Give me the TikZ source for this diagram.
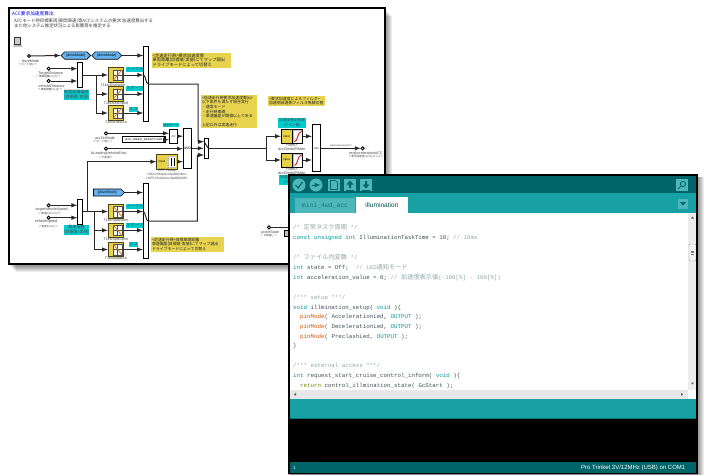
\documentclass[tikz,border=0pt]{standalone}
\usepackage{fontspec}
\setmainfont{Liberation Sans}
\setmonofont{Liberation Mono}
\newfontfamily\jpfont{Noto Sans CJK JP}
\usetikzlibrary{shapes.symbols}
\definecolor{yblock}{RGB}{232, 210, 74}
\definecolor{ylabel}{RGB}{231, 211, 78}
\definecolor{cyanlabel}{RGB}{0, 205, 208}
\definecolor{oliveedge}{RGB}{78, 66, 16}
\definecolor{tagblue}{RGB}{100, 178, 240}
\definecolor{wiredark}{RGB}{40, 40, 40}
\definecolor{labgray}{RGB}{70, 70, 70}
\definecolor{tealdark}{RGB}{0, 100, 104}
\definecolor{tealmid}{RGB}{23, 161, 165}
\definecolor{teallite}{RGB}{77, 183, 187}
\definecolor{codetext}{RGB}{67, 79, 84}
\definecolor{codegray}{RGB}{149, 165, 166}
\definecolor{codekey}{RGB}{0, 151, 156}
\definecolor{codefunc}{RGB}{211, 84, 0}
\definecolor{codeback}{RGB}{114, 142, 0}
\newcommand{\key}[1]{\textcolor{codekey}{#1}}
\newcommand{\cmt}[1]{\textcolor{codegray}{#1}}
\newcommand{\fnc}[1]{\textcolor{codefunc}{#1}}
\newcommand{\jpc}[1]{{\jpfont\fontsize{6.2}{8}\selectfont #1}}
\tikzset{
  wire/.style={draw=wiredark, line width=1pt, -latex},
  plainwire/.style={draw=wiredark, line width=1pt},
  port/.style={circle, draw=black, fill=white, line width=0.9pt, inner sep=0pt, minimum size=3.2pt},
  muxbar/.style={draw=black, fill=white, line width=0.9pt, inner sep=0pt},
  lookup/.style={draw=oliveedge, fill=yblock, line width=1pt, minimum width=15pt, minimum height=14.3pt, inner sep=0pt},
  filterbox/.style={draw=black, fill=white, line width=1pt, minimum width=21.4pt, minimum height=14pt, inner sep=0pt},
  lab/.style={font=\fontsize{3.7}{4}\selectfont, text=labgray, inner sep=0pt},
  sublab/.style={font=\jpfont\fontsize{2.6}{3}\selectfont, text=labgray, inner sep=0pt},
  noteblock/.style={fill=ylabel, font=\jpfont\fontsize{4.25}{4.7}\selectfont, text=black!85, align=left, inner xsep=1pt, inner ysep=0pt},
  cyanblock/.style={fill=cyanlabel, font=\jpfont\fontsize{4.2}{4.8}\selectfont, text=black!70, align=center, inner sep=0pt},
  tagblock/.style={signal, draw=black, fill=tagblue, line width=0.6pt, font=\fontsize{3.6}{4}\selectfont, inner sep=0pt, minimum height=7.4pt},
  codeline/.style={anchor=base west, inner sep=0pt, font=\ttfamily\fontsize{5.8}{8}\selectfont, text=codetext},
  toolbtn/.style={fill=teallite, minimum size=12pt, inner sep=0pt},
  lookupicon/.pic={
    \fill[white] (-2.5,-5.2) rectangle (6.2,5.2);
    \draw[black!70, line width=0.3pt] (-2.5,-5.2) rectangle (6.2,5.2) (1.8,-5.2) -- (1.8,5.2) (-2.5,0) -- (6.2,0);
    \draw[orange!90!black, line width=0.8pt] (-2.5,5.2) -- (6.2,-5.2);
  },
  filtericon/.pic={
    \fill[yblock] (-10.2,-6.5) rectangle (0,6.5);
    \fill[black!25] (0.6,-6.5) rectangle (10.2,6.5);
    \fill[white] (2.2,-5) rectangle (10.2,6.5);
    \draw[black, line width=0.8pt] (0,-7) -- (0,7);
    \draw[red!85!black, line width=0.8pt] (2.5,5.5) .. controls (6,5) and (5,-4) .. (9.5,-5);
  }
}
\begin{document}
\begin{tikzpicture}[x=1pt, y=-1pt]
  \useasboundingbox (0,0) rectangle (704,474);
  \fill[white] (0,0) rectangle (704,474);
  % frame of the model
  \foreach \i in {1,...,7} \fill[black, opacity=0.075] (9+\i,9+\i) rectangle (385+\i,265+\i);
  \draw[line width=2pt, fill=white] (9,8) rectangle (384.5,264);
  \node[anchor=west, inner sep=0pt, text=blue!90!black, font=\jpfont\fontsize{4.7}{6}\selectfont] (title) at (12,14) {ACC要求加速度算出};
  \node[anchor=north west, inner sep=0pt, text=black!75, align=left, font=\jpfont\fontsize{4.4}{5}\selectfont] (desc) at (14,18.5) {ACCモード時目標車両(車間車速)等ACCシステムの要求 加速度算出する\\また他システム推定状況による影響等を推定する};
  \node[draw=black!80, fill=black!20, line width=0.8pt, minimum width=6pt, minimum height=7pt, inner sep=0pt] (clock) at (17.7,40.5) {};
  \node[lab] (clocklab) at (17.7,46) {10ms};

  % inputs
  \node[port] (drivemode) at (29,56) {};
  \node[lab] (drivemodelab) at (30.6,60.7) {driveMode};
  \node[sublab] (drivemodesub) at (28,65) {(* モード値[-] *)};
  \node[port] (tgtdist) at (48.7,68.7) {};
  \node[lab] (tgtdistlab) at (50.7,73.3) {TargetDistance};
  \node[sublab] (tgtdistsub) at (48.3,77) {(* 車間距離[m] [0] *)};
  \node[port] (vehdist) at (48.7,81) {};
  \node[lab] (vehdistlab) at (51.7,85.7) {vehicleDistance};
  \node[sublab] (vehdistsub) at (50,90) {(* 車間距離[m] [0] *)};
  \node[port] (acconmode) at (106,133.3) {};
  \node[lab] (acconmodelab) at (105,137.7) {accOnMode};
  \node[sublab] (acconmodesub) at (103,141.7) {(* モード値[-] *)};
  \node[port] (leadveh) at (106,148.7) {};
  \node[lab] (leadvehlab) at (109,153.3) {bLeadingVehicleExist};
  \node[sublab] (leadvehsub) at (106,157.7) {(* 判定値 *)};
  \node[port] (tgtspd) at (48.7,205.3) {};
  \node[lab] (tgtspdlab) at (51.7,209.3) {targetVehicleSpeed};
  \node[sublab] (tgtspdsub) at (50,214) {(* 車速[km/h] [0] *)};
  \node[port] (vehspd) at (48.7,217.7) {};
  \node[lab] (vehspdlab) at (46,222) {vehicleSpeed};
  \node[sublab] (vehspdsub) at (48.3,226.7) {(* 車速[km/h] *)};
  \node[port] (accelstate) at (269,227.3) {};
  \node[lab] (accelstatelab) at (270,232.3) {acclieState};
  \node[sublab] (accelstatesub) at (269,236) {(* 状態値[-] *)};
  \node[port] (reqport) at (362.7,148.3) {};
  \node[lab] (reqlab) at (366,153.3) {reqAccelerationACC};
  \node[sublab] (reqsub) at (366,157) {(* 要求加速度[m/s2] [0-1,0] *)};

  % goto tags
  \node[tagblock, signal to=east and west, minimum width=29.7pt] (tagA) at (75.8,55.5) {[driveMode]};
  \node[tagblock, signal to=east and west, minimum width=30pt] (tagB) at (106.7,55.5) {[driveMode]};
  \node[tagblock, signal to=east, signal from=nowhere, minimum width=31pt, minimum height=7pt] (tagC) at (107.2,192.5) {[driveMode]};

  % bars
  \node[muxbar, minimum width=4.6pt, minimum height=75pt] (topmux) at (146,84.2) {};
  \node[muxbar, minimum width=4.6pt, minimum height=25pt] (distmux) at (80,74.8) {};
  \node[muxbar, minimum width=4.7pt, minimum height=75pt] (botmux) at (145.7,220.8) {};
  \node[muxbar, minimum width=4.6pt, minimum height=25pt] (spdmux) at (80,211.5) {};
  \node[muxbar, minimum width=8.4pt, minimum height=40pt, font=\fontsize{3.4}{4}\selectfont] (andgate) at (187.5,148.3) {AND};
  \node[muxbar, minimum width=8.4pt, minimum height=14.3pt, font=\fontsize{3.4}{4}\selectfont] (eqblock) at (173.5,136.2) {==};
  \node[muxbar, line width=1.1pt, minimum width=42.3pt, minimum height=6pt, font=\ttfamily\fontsize{3.4}{4}\selectfont] (constblock) at (143.85,139.7) {acc\_mean\_assertion};
  \node[muxbar, minimum width=4.3pt, minimum height=20pt] (switch) at (206.2,148.3) {};
  \node[muxbar, minimum width=8.4pt, minimum height=47.4pt, font=\fontsize{2.8}{4}\selectfont] (outmux) at (316.5,148) {min};
  \node[muxbar, minimum width=6pt, minimum height=6.7pt, fill=black!25] (accelblock) at (287,233.3) {};

  % lookup tables
  \node[lookup] (distnorm) at (115.8,75) {};
  \node[lookup] (distsport) at (115.8,94) {};
  \node[lookup] (disteco) at (115.8,113) {};
  \node[lookup] (spdnorm) at (115.8,211.5) {};
  \node[lookup] (spdsport) at (115.8,230.3) {};
  \node[lookup] (spdeco) at (115.8,249.5) {};
  \pic at (distnorm) {lookupicon};
  \pic at (distsport) {lookupicon};
  \pic at (disteco) {lookupicon};
  \pic[yscale=-1] at (spdnorm) {lookupicon};
  \pic[yscale=-1] at (spdsport) {lookupicon};
  \pic[yscale=-1] at (spdeco) {lookupicon};
  \node[lab] (distnormlab) at (113,84.7) {T1ksrDistNorm};
  \node[lab] (distsportlab) at (116,103.7) {T1ksrDistSport};
  \node[lab] (distecolab) at (116,122.3) {T1ksrDistEco};
  \node[lab] (spdnormlab) at (116,221) {T1ksrSpdNorm};
  \node[lab] (spdsportlab) at (116,240) {T1ksrSpdSport};
  \node[lab] (spdecolab) at (116,259) {T1ksrSpdEco};

  % relay and filters
  \node[draw=oliveedge, fill=yblock, line width=1pt, minimum width=20.6pt, minimum height=14.7pt, inner sep=0pt] (relay) at (167,161.7) {};
  \fill[black!25] (168,155.5) rectangle (176.2,168);
  \fill[white] (169,157) rectangle (176.2,167);
  \draw[black, line width=0.7pt] (171,158) -- (171,166) (174,158) -- (174,166);
  \node[inner sep=0pt, font=\fontsize{3}{4}\selectfont] (relayin) at (162,161.7) {input};
  \node[lab] (relaylab) at (167,170.7) {OFF Relay};
  \node[lab, font=\fontsize{3.2}{4}\selectfont] (relayon) at (167,174.4) {<ON:ChAdvAccSpdDIOOn>};
  \node[lab, font=\fontsize{3.2}{4}\selectfont] (relayoff) at (167,178.3) {<OFF:ChAdvAccSpdDIOOff>};
  \node[filterbox] (filtera) at (292,136.3) {};
  \node[filterbox] (filterb) at (292,160) {};
  \pic at (filtera) {filtericon};
  \pic at (filterb) {filtericon};
  \node[inner sep=0pt, font=\fontsize{3}{4}\selectfont] (filterain) at (286.6,136.3) {input};
  \node[inner sep=0pt, font=\fontsize{3}{4}\selectfont] (filterbin) at (286.6,160) {input};
  \node[lab] (filteralab) at (291.7,145) {FilterD};
  \node[lab] (filterasub) at (291.7,149) {dccClmdbPIMdn};
  \node[lab] (filterblab) at (291.7,169) {FilterD};
  \node[lab] (filterbsub) at (291.7,173.3) {dccClmdbPIMdn};

  % notes
  \node[noteblock, text width=77pt, minimum height=15.3pt] (notetop) at (191.2,60.35) {<定速走行時>要求加速度算\\車両距離(目標値-実値)にてマップ調出\\ドライブモードによって切替え};
  \node[noteblock, text width=71pt, minimum height=14.7pt, font=\jpfont\fontsize{3.9}{4.7}\selectfont] (notebot) at (187.5,244.35) {<定速走行時>目標車間距離\\車速偏差(目標値-実値)にてマップ調出\\ドライブモードによって切替え};
  \node[noteblock, text width=53.7pt, minimum height=33.3pt, font=\jpfont\fontsize{3.9}{4.6}\selectfont] (notemid) at (228.85,111.65) {<低速走行時要求加速度算出>\\以下条件を満たす場合実行\\・通常モード\\・走行時車間\\・車速偏差が閾値以上である\\\ \\上記以外は実速走行};
  \node[noteblock, text width=55pt, minimum height=10pt, font=\jpfont\fontsize{3.9}{4.6}\selectfont] (noteright) at (296.5,101) {<要求加速度によるフィルタ>\\加速側減速側フィルタ係数切替};
  \node[cyanblock, minimum width=25pt, minimum height=9.7pt] (cyandist) at (76.5,94.85) {車間距離偏差\\(目標値-実値)};
  \node[cyanblock, minimum width=25pt, minimum height=9.7pt] (cyanspd) at (76.5,229.85) {車速偏差\\(目標値-実値)};
  \node[cyanblock, minimum width=13.7pt, minimum height=4.7pt] (cyanna) at (134.85,69.3) {ノーマル};
  \node[cyanblock, minimum width=13.7pt, minimum height=4.7pt] (cyansa) at (134.85,88.3) {スポーツ};
  \node[cyanblock, minimum width=6.7pt, minimum height=4.7pt] (cyanea) at (133.3,109.3) {エコ};
  \node[cyanblock, minimum width=13.7pt, minimum height=4.7pt] (cyannb) at (134.85,206.3) {ノーマル};
  \node[cyanblock, minimum width=13.7pt, minimum height=4.7pt] (cyansb) at (134.85,225.3) {スポーツ};
  \node[cyanblock, minimum width=6.7pt, minimum height=4.7pt] (cyaneb) at (133.3,244.3) {エコ};
  \node[cyanblock, minimum width=15.3pt, minimum height=4.7pt, font=\jpfont\fontsize{3.1}{4}\selectfont] (cyancruise) at (171,125) {巡航モード};
  \node[cyanblock, minimum width=28pt, minimum height=10pt, font=\jpfont\fontsize{3.7}{4.6}\selectfont] (cyangain) at (292,123) {加速度補正係数\\(ゲイン値)};
  \node[cyanblock, minimum width=28pt, minimum height=10pt, font=\jpfont\fontsize{3.7}{4.6}\selectfont] (cyangainb) at (293,180) {加速度補正係数\\(ゲイン値)};

  % helper points
  \coordinate (distout) at (82.3,75);
  \coordinate (distbr) at (96.7,75);
  \coordinate (spdout) at (82.3,211.5);
  \coordinate (spdbr) at (94.3,211.5);
  \coordinate (spdup) at (87.3,211.5);
  \coordinate (topout) at (148.3,84);
  \coordinate (topcorner) at (198,84);
  \coordinate (botout) at (148,221);
  \coordinate (botcorner) at (197.3,221);
  \coordinate (swa) at (204,141.7);
  \coordinate (swb) at (204,155);
  \coordinate (swout) at (208.3,148.3);
  \coordinate (filterbr) at (266,148.3);
  \coordinate (outend) at (320.7,148.3);
  \coordinate (winedge) at (289,227.3);

  % connectors
  \draw[wire] (drivemode) -- (tagA.west);
  \draw[wire] (tagB.east) -- (tagB.east -| topmux.west);
  \draw[wire] (tgtdist) -- (tgtdist -| distmux.west);
  \draw[wire] (vehdist) -- (vehdist -| distmux.west);
  \draw[wire] (tgtspd) -- (tgtspd -| spdmux.west);
  \draw[wire] (vehspd) -- (vehspd -| spdmux.west);
  \draw[wire] (distout) -- (distnorm.west);
  \draw[wire] (distbr) |- (distsport.west);
  \draw[wire] (distbr) |- (disteco.west);
  \draw[wire] (spdout) -- (spdnorm.west);
  \draw[wire] (spdbr) |- (spdsport.west);
  \draw[wire] (spdbr) |- (spdeco.west);
  \draw[wire] (spdup) |- (relay.west);
  \draw[wire] (distnorm.east) -- (distnorm.east -| topmux.west);
  \draw[wire] (distsport.east) -- (distsport.east -| topmux.west);
  \draw[wire] (disteco.east) -- (disteco.east -| topmux.west);
  \draw[wire] (spdnorm.east) -- (spdnorm.east -| botmux.west);
  \draw[wire] (spdsport.east) -- (spdsport.east -| botmux.west);
  \draw[wire] (spdeco.east) -- (spdeco.east -| botmux.west);
  \draw[wire] (tagC.east) -- (tagC.east -| botmux.west);
  \draw[wire] (distnorm.east -| topmux.west) .. controls (146,75) and (145.5,84) .. (topout) -- (topcorner) |- (swa);
  \draw[wire] (spdnorm.east -| botmux.west) .. controls (146,211.5) and (145.5,221) .. (botout) -- (botcorner) |- (swb);
  \draw[wire] (acconmode) -- (acconmode -| eqblock.west);
  \draw[wire] (constblock.east) -- (constblock.east -| eqblock.west);
  \draw[wire] (eqblock.east) -- (eqblock.east -| andgate.west);
  \draw[wire] (leadveh) -- (leadveh -| andgate.west);
  \draw[wire] (relay.east) -- (relay.east -| andgate.west);
  \draw[wire] (andgate.east) -- (andgate.east -| switch.west);
  \draw[plainwire] (swa) -- (swout);
  \draw[plainwire] (swout) -- (filterbr);
  \draw[wire] (filterbr) |- (filtera.west);
  \draw[wire] (filterbr) |- (filterb.west);
  \draw[wire] (filtera.east) -- (filtera.east -| outmux.west);
  \draw[wire] (filterb.east) -- (filterb.east -| outmux.west);
  \draw[wire] (outend) -- node[above=0.4pt, inner sep=0pt, font=\fontsize{2.4}{3}\selectfont, text=labgray] (outname) {reqAccelerationACC} (reqport);
  \draw[plainwire] (accelstate) -- (winedge);

  % window
  \foreach \i in {1,...,7} \fill[black, opacity=0.075] (291-0.5*\i,177) rectangle (697+\i,480);
  \fill[white] (289,175) rectangle (697,474);
  \fill[tealdark] (290,176) rectangle (696.5,193);
  \fill[tealmid] (290,193) rectangle (696.5,213);
  \fill[teallite] (295,198) rectangle (355,213);
  \fill[white] (356,197) rectangle (408,213);
  \node[inner sep=0pt, text=tealmid!75!black, font=\ttfamily\fontsize{6.4}{8}\selectfont] (tabsketch) at (325,205.5) {mini\_4wd\_acc};
  \node[inner sep=0pt, text=tealdark!80!black, font=\fontsize{6.6}{8}\selectfont] (tabillum) at (382,205.5) {illumination};

  \node[circle, fill=teallite, minimum size=13pt, inner sep=0pt] (btnverify) at (299,185) {};
  \node[circle, fill=teallite, minimum size=13pt, inner sep=0pt] (btnupload) at (316,185) {};
  \node[toolbtn] (btnnew) at (334,185) {};
  \node[toolbtn] (btnopen) at (350,185) {};
  \node[toolbtn] (btnsave) at (366,185) {};
  \node[toolbtn] (btnsearch) at (682,185) {};
  \node[toolbtn, minimum size=10pt] (btnmenu) at (683,203.5) {};
  \draw[tealdark, line width=1.1pt] (295.5,185) -- (298.2,188) -- (302.5,182);
  \draw[tealdark, line width=1pt, -latex] (312,185) -- (320.5,185);
  \draw[tealdark, line width=0.7pt] (330.5,180.5) -- (335.5,180.5) -- (337.5,182.5) -- (337.5,189.5) -- (330.5,189.5) -- cycle;
  \fill[tealdark] (350,180.5) -- (353.5,184.5) -- (351,184.5) -- (351,188) -- (349,188) -- (349,184.5) -- (346.5,184.5) -- cycle;
  \fill[tealdark] (366,188.5) -- (369.5,184.5) -- (367,184.5) -- (367,181) -- (365,181) -- (365,184.5) -- (362.5,184.5) -- cycle;
  \draw[tealdark, line width=0.7pt] (346,190) -- (354,190) (362,190) -- (370,190);
  \draw[tealdark, line width=0.9pt] (683,184) circle (2.6pt) (681,186) -- (678,189);
  \fill[tealdark] (680,202) -- (686,202) -- (683,205.5) -- cycle;

  % code
  \node[codeline] (codea) at (293,229) {\cmt{/* \jpc{定常タスク周期} */}};
  \node[codeline] (codeb) at (293,239) {\key{const} \key{unsigned} \key{int} IlluminationTaskTime = 10; \cmt{// 10ms}};
  \node[codeline] (codec) at (293,259) {\cmt{/* \jpc{ファイル内変数} */}};
  \node[codeline] (coded) at (293,269) {\key{int} state = Off;\ \ \cmt{// LED\jpc{通知モード}}};
  \node[codeline] (codee) at (293,279) {\key{int} acceleration\_value = 0; \cmt{// \jpc{加速度表示値}(-100[\%] - 100[\%])}};
  \node[codeline] (codef) at (293,299) {\cmt{/*** setup ***/}};
  \node[codeline] (codeg) at (293,309) {\key{void} illmination\_setup( \key{void} )\{};
  \node[codeline] (codeh) at (300,318.5) {\fnc{pinMode}( AccelerationLed, \key{OUTPUT} );};
  \node[codeline] (codei) at (300,328) {\fnc{pinMode}( DecelerationLed, \key{OUTPUT} );};
  \node[codeline] (codej) at (300,338) {\fnc{pinMode}( PreclashLed, \key{OUTPUT} );};
  \node[codeline] (codek) at (293,347.5) {\}};
  \node[codeline] (codel) at (293,367) {\cmt{/*** external access ***/}};
  \node[codeline] (codem) at (293,377) {\key{int} request\_start\_cruise\_control\_inform( \key{void} )\{};
  \node[codeline] (coden) at (300,387) {\textcolor{codeback}{return} control\_illmination\_state( GcStart );};

  % scroll bars
  \fill[black!7] (688,213) rectangle (696.5,390);
  \fill[black!9] (290,390) rectangle (696.5,399);
  \fill[white] (688,390) rectangle (696.5,399);
  \draw[black!35, fill=black!5, line width=0.4pt, rounded corners=1pt] (689,244) rectangle (696,261);
  \draw[black!50, line width=0.3pt] (691,251) -- (694,251) (691,252.5) -- (694,252.5) (691,254) -- (694,254);
  \fill[black!60] (692.5,216.5) -- (694.2,218.5) -- (690.8,218.5) -- cycle;
  \fill[black!60] (692.5,384.5) -- (694.2,382.5) -- (690.8,382.5) -- cycle;
  \fill[black!60] (296,392.8) -- (293.8,394.3) -- (296,395.8) -- cycle;
  \fill[black!60] (681,392.8) -- (683.2,394.3) -- (681,395.8) -- cycle;

  % message, console and status bar
  \fill[tealmid] (290,399) rectangle (696.5,418);
  \draw[tealdark!70!tealmid, line width=0.8pt] (290,418) -- (696.5,418);
  \fill[black] (290,419) rectangle (696.5,462);
  \fill[tealdark] (290,462) rectangle (696.5,472.5);
  \node[inner sep=0pt, text=white, font=\fontsize{4.6}{6}\selectfont] (lineno) at (294.5,468) {1};
  \node[anchor=east, inner sep=0pt, text=white, font=\fontsize{6}{7}\selectfont] (boardname) at (685.5,468) {Pro Trinket 3V/12MHz (USB) on COM1};
  \draw[black, line width=1.5pt] (289,175) rectangle (697,473.5);
\end{tikzpicture}
\end{document}
